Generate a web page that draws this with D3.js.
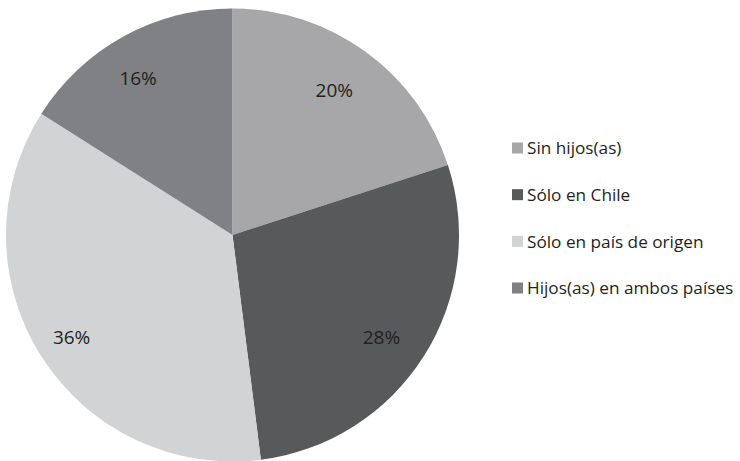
<!DOCTYPE html>
<html>
<head>
<meta charset="utf-8">
<script src="https://cdn.jsdelivr.net/npm/d3@7"></script>
<style>
  body { margin: 0; background: #fff; }
  text { font-family: "Open Sans", "Lato", sans-serif; fill: #231f20; }
</style>
</head>
<body>
<svg id="chart" width="740" height="461"></svg>
<script>
// data
var categories = ["Sin hijos(as)", "Sólo en Chile", "Sólo en país de origen", "Hijos(as) en ambos países"];
var values = [20, 28, 36, 16];
var colors = ["#a7a7a9", "#58595b", "#d2d3d5", "#808184"];

var svg = d3.select("#chart");
var cx = 232.5, cy = 235, radius = 226.5;

var data = categories.map(function(c, i) { return {name: c, value: values[i], color: colors[i]}; });

var pie = d3.pie().sort(null).value(function(d) { return d.value; });
var arc = d3.arc().innerRadius(0).outerRadius(radius);
var labelArc = d3.arc().innerRadius(radius * 0.81).outerRadius(radius * 0.81);

var g = svg.append("g").attr("transform", "translate(" + cx + "," + cy + ")");

var slices = g.selectAll("g.slice")
  .data(pie(data))
  .enter()
    .append("g")
    .attr("class", "slice");

slices.append("path")
  .attr("d", arc)
  .attr("fill", function(d) { return d.data.color; });

// labels sit a bit left and lower than the plain centroid
slices.append("text")
  .attr("transform", function(d) {
    var c = labelArc.centroid(d);
    return "translate(" + (c[0] - 6) + "," + (c[1] + 4) + ")";
  })
  .attr("text-anchor", "middle")
  .attr("dy", "0.36em")
  .style("font-size", "19px")
  .text(function(d) { return d.data.value + "%"; });

// legend
var legend = svg.append("g").attr("transform", "translate(512,0)");
var rowY = d3.scalePoint().domain(categories).range([148, 288]);

var item = legend.selectAll("g.item")
  .data(data)
  .enter()
    .append("g")
    .attr("class", "item")
    .attr("transform", function(d) { return "translate(0," + rowY(d.name) + ")"; });

item.append("rect")
  .attr("x", 0)
  .attr("y", -5.5)
  .attr("width", 11)
  .attr("height", 11)
  .attr("fill", function(d) { return d.color; });

item.append("text")
  .attr("x", 15)
  .attr("dy", "0.36em")
  .style("font-size", "17.2px")
  .text(function(d) { return d.name; });
</script>
</body>
</html>
